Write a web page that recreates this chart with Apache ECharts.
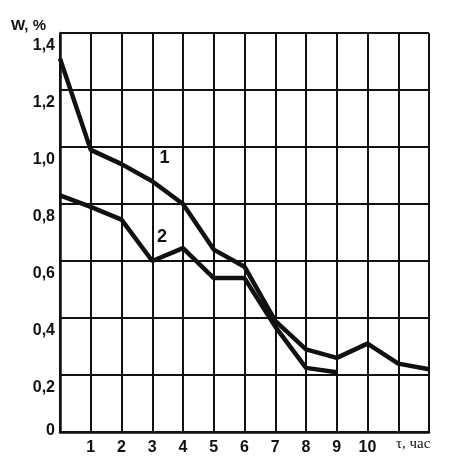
<!DOCTYPE html>
<html>
<head>
<meta charset="utf-8">
<script src="https://cdn.jsdelivr.net/npm/echarts@6/dist/echarts.min.js"></script>
<style>
  html, body { margin: 0; padding: 0; background: #fff; }
  #main { width: 457px; height: 471px; }
</style>
</head>
<body>
<div id="main"></div>
<script>
// time, hours
var hours1 = [0, 1, 2, 3, 4, 5, 6, 7, 8, 9, 10, 11, 12];
var hours2 = [0, 1, 2, 3, 4, 5, 6, 7, 8, 9];
// moisture W, %
var w1 = [1.31, 0.99, 0.94, 0.88, 0.80, 0.64, 0.58, 0.39, 0.29, 0.26, 0.31, 0.24, 0.22];
var w2 = [0.83, 0.79, 0.745, 0.60, 0.645, 0.54, 0.54, 0.37, 0.225, 0.21];
var xLabels = ['1', '2', '3', '4', '5', '6', '7', '8', '9', '10'];

var ink = '#111';
var chart = echarts.init(document.getElementById('main'));

function pairs(xs, ys) {
  return xs.map(function (x, i) { return [x, ys[i]]; });
}

chart.setOption({
  animation: false,
  grid: { left: 60, top: 33, right: 28, bottom: 39 },
  xAxis: {
    type: 'value', min: 0, max: 12, interval: 1,
    axisLine: { lineStyle: { color: ink, width: 2.5 } },
    axisTick: { show: false },
    splitLine: { show: true, lineStyle: { color: ink, width: 2 } },
    axisLabel: {
      margin: 8, color: ink, fontSize: 16, fontWeight: 'bold',
      fontFamily: 'Liberation Sans, Arial',
      formatter: function (v) { return xLabels[v - 1] || ''; }
    }
  },
  yAxis: {
    type: 'value', min: 0, max: 1.4, interval: 0.2,
    axisLine: { show: true, lineStyle: { color: ink, width: 2.5 } },
    axisTick: { show: false },
    splitLine: { show: true, lineStyle: { color: ink, width: 2 } },
    axisLabel: {
      margin: 5, color: ink, fontSize: 16, fontWeight: 'bold',
      fontFamily: 'Liberation Sans, Arial',
      formatter: function (v) {
        if (v === 0) return '{z|0}';
        return '{n|' + v.toFixed(1).replace('.', ',') + '}';
      },
      rich: {
        z: { fontSize: 16, fontWeight: 'bold', color: ink, padding: [0, 0, 2, 0] },
        n: { fontSize: 16, fontWeight: 'bold', color: ink, padding: [26, 0, 0, 0] }
      }
    }
  },
  graphic: [
    { type: 'text', left: 11, top: 18,
      style: { text: 'W, %', fill: ink, font: 'bold 15px "Liberation Sans", Arial' } },
    { type: 'text', left: 396, top: 437,
      style: { text: 'τ, час', fill: ink, font: '15px "Liberation Serif", serif' } }
  ],
  series: [
    {
      type: 'line', data: pairs(hours1, w1), showSymbol: false,
      lineStyle: { color: ink, width: 4.5 },
      markPoint: {
        symbolSize: 0,
        label: { show: true, color: ink, fontSize: 18, fontWeight: 'bold', formatter: '1' },
        data: [{ coord: [3.4, 0.96] }]
      }
    },
    {
      type: 'line', data: pairs(hours2, w2), showSymbol: false,
      lineStyle: { color: ink, width: 4.5 },
      markPoint: {
        symbolSize: 0,
        label: { show: true, color: ink, fontSize: 18, fontWeight: 'bold', formatter: '2' },
        data: [{ coord: [3.32, 0.685] }]
      }
    }
  ]
});
</script>
</body>
</html>
